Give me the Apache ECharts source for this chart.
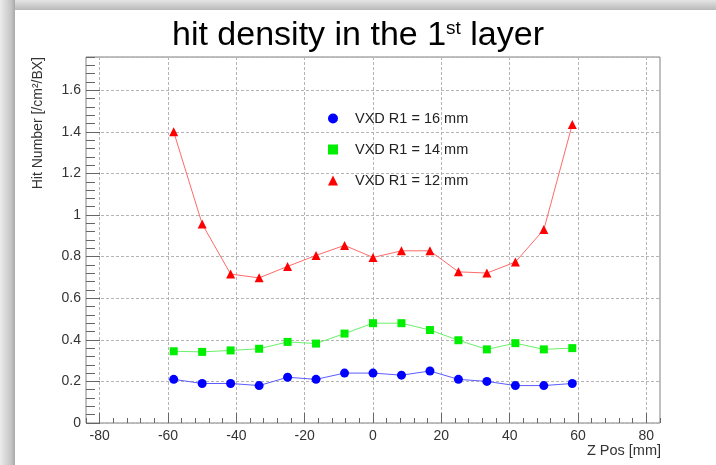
<!DOCTYPE html>
<html>
<head>
<meta charset="utf-8">
<title>hit density in the 1st layer</title>
<script src="https://cdn.jsdelivr.net/npm/echarts@6/dist/echarts.min.js"></script>
<style>
  html, body { margin: 0; padding: 0; background: #fff; }
  #main { width: 716px; height: 465px; }
</style>
</head>
<body>
<div id="main"></div>
<script>
// z position of each bin centre (mm)
var zPos = [-58.33, -50, -41.67, -33.33, -25, -16.67, -8.33, 0, 8.33, 16.67, 25, 33.33, 41.67, 50, 58.33];
// hit density, one array per VXD R1 radius
var r16 = [0.21, 0.19, 0.19, 0.18, 0.22, 0.21, 0.24, 0.24, 0.23, 0.25, 0.21, 0.20, 0.18, 0.18, 0.19];
var r14 = [0.345, 0.342, 0.349, 0.357, 0.39, 0.382, 0.43, 0.48, 0.48, 0.447, 0.398, 0.354, 0.384, 0.354, 0.36];
var r12 = [1.40, 0.957, 0.716, 0.698, 0.753, 0.806, 0.854, 0.796, 0.828, 0.828, 0.727, 0.721, 0.774, 0.930, 1.436];
var seriesNames = ['VXD R1 = 16 mm', 'VXD R1 = 14 mm', 'VXD R1 = 12 mm'];
var xTicks = [-80, -60, -40, -20, 0, 20, 40, 60, 80];

function pairs(vals) {
  var out = [];
  for (var i = 0; i < zPos.length; i++) {
    out.push([zPos[i], vals[i]]);
  }
  return out;
}

var chart = echarts.init(document.getElementById('main'), null, { renderer: 'canvas' });

var font = 'Liberation Sans, Arial, Helvetica, sans-serif';
var gridLine = { show: true, lineStyle: { color: '#b4b4b4', width: 1, type: [3, 2] } };
var noLine = { show: false, onZero: false };

var option = {
  animation: false,
  backgroundColor: '#fff',
  title: {
    text: '{a|hit density in the 1}{s|st}{a| layer}',
    left: 'center',
    top: 14,
    textStyle: {
      rich: {
        a: { fontSize: 34, fontFamily: font, color: '#000', fontWeight: 'normal' },
        s: { fontSize: 19, fontFamily: font, color: '#000', fontWeight: 'normal', verticalAlign: 'top', padding: [0, 0, 12, 0] }
      }
    }
  },
  legend: {
    orient: 'vertical',
    left: 323,
    top: 106,
    itemWidth: 10,
    itemHeight: 10,
    itemGap: 16,
    data: [
      { name: seriesNames[0], icon: 'circle' },
      { name: seriesNames[1], icon: 'rect' },
      { name: seriesNames[2], icon: 'triangle' }
    ],
    textStyle: { fontSize: 14.5, fontFamily: font, color: '#222', padding: [0, 0, 0, 12] }
  },
  grid: {
    left: 86, top: 57, width: 574, height: 366,
    show: true, backgroundColor: '#fff', borderColor: '#808080', borderWidth: 1,
    containLabel: false, outerBoundsMode: 'none'
  },
  xAxis: [
    { // minor ticks
      type: 'value', min: -84, max: 84, interval: 4, position: 'bottom',
      axisLine: noLine,
      axisTick: { show: true, inside: true, length: 5, lineStyle: { color: '#666' } },
      axisLabel: { show: false },
      splitLine: { show: false }
    },
    { // major ticks, labels and grid
      type: 'value', min: -84, max: 84, position: 'bottom',
      axisLine: noLine,
      axisTick: { show: true, inside: true, length: 10, customValues: xTicks, lineStyle: { color: '#666' } },
      axisLabel: { show: true, customValues: xTicks, margin: 6, fontSize: 14, fontFamily: font, color: '#333' },
      splitLine: gridLine
    }
  ],
  yAxis: [
    { // minor ticks
      type: 'value', min: 0, max: 1.76, interval: 0.04, position: 'left',
      axisLine: noLine,
      axisTick: { show: true, inside: true, length: 9, lineStyle: { color: '#666' } },
      axisLabel: { show: false },
      splitLine: { show: false }
    },
    { // major ticks, labels and grid
      type: 'value', min: 0, max: 1.76, interval: 0.2, position: 'left',
      axisLine: noLine,
      axisTick: { show: true, inside: true, length: 14, lineStyle: { color: '#666' } },
      axisLabel: { show: true, showMaxLabel: false, margin: 5, fontSize: 14, fontFamily: font, color: '#333' },
      splitLine: gridLine
    }
  ],
  graphic: [
    // canvas shadow on the left and top
    { type: 'rect', z: -10, shape: { x: 0, y: 0, width: 716, height: 10 },
      style: { fill: new echarts.graphic.LinearGradient(0, 0, 0, 1, [
        { offset: 0, color: '#e4e4e4' }, { offset: 1, color: '#b9b9b9' }]) } },
    { type: 'rect', z: -9, shape: { x: 0, y: 0, width: 15, height: 465 },
      style: { fill: new echarts.graphic.LinearGradient(0, 0, 1, 0, [
        { offset: 0, color: '#ececec' }, { offset: 0.75, color: '#c4c4c4' }, { offset: 1, color: '#a8a8a8' }]) } },
    // axis titles
    { type: 'text', x: 38, y: 57, rotation: Math.PI / 2,
      style: { text: 'Hit Number [/cm²/BX]', align: 'right', verticalAlign: 'middle',
        fontSize: 14, fontFamily: font, fill: '#333' } },
    { type: 'text', x: 661, y: 451,
      style: { text: 'Z Pos [mm]', align: 'right', verticalAlign: 'middle',
        fontSize: 14.5, fontFamily: font, fill: '#333' } }
  ],
  series: [
    {
      name: seriesNames[0], type: 'line', xAxisIndex: 0, yAxisIndex: 0,
      data: pairs(r16), symbol: 'circle', symbolSize: 9,
      itemStyle: { color: '#0000ff' },
      lineStyle: { color: '#5c5cff', width: 1 }
    },
    {
      name: seriesNames[1], type: 'line', xAxisIndex: 0, yAxisIndex: 0,
      data: pairs(r14), symbol: 'rect', symbolSize: 8,
      itemStyle: { color: '#00ee00' },
      lineStyle: { color: '#6af06a', width: 1 }
    },
    {
      name: seriesNames[2], type: 'line', xAxisIndex: 0, yAxisIndex: 0,
      data: pairs(r12), symbol: 'triangle', symbolSize: 9,
      itemStyle: { color: '#ff0000' },
      lineStyle: { color: '#ff6a6a', width: 1 }
    }
  ]
};

chart.setOption(option);
</script>
</body>
</html>
